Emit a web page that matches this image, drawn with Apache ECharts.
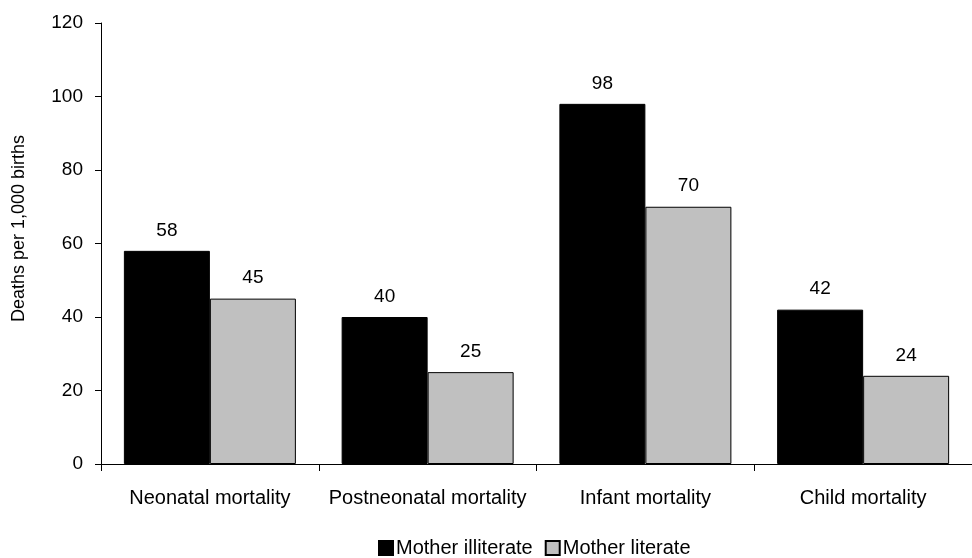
<!DOCTYPE html>
<html>
<head>
<meta charset="utf-8">
<script src="https://cdn.jsdelivr.net/npm/echarts@6/dist/echarts.min.js"></script>
<style>
  html, body { margin: 0; padding: 0; background: #fff; }
  #chart { width: 972px; height: 558px; }
</style>
</head>
<body>
<div id="chart"></div>
<script>
var categories = ['Neonatal mortality', 'Postneonatal mortality', 'Infant mortality', 'Child mortality'];
var illiterate = [58, 40, 98, 42];
var literate = [45, 25, 70, 24];
var seriesNames = ['Mother illiterate', 'Mother literate'];

var chart = echarts.init(document.getElementById('chart'));
var font = 'Liberation Sans, Arial, sans-serif';

var option = {
  animation: false,
  textStyle: { fontFamily: font },
  grid: { left: 101, top: 23, bottom: 94, width: 878 },
  legend: {
    data: seriesNames,
    bottom: -5,
    left: 373,
    itemWidth: 14,
    itemHeight: 14,
    itemGap: 12,
    icon: 'rect',
    textStyle: { fontSize: 20, color: '#000', fontFamily: font, padding: [0, 0, 0, -2] }
  },
  xAxis: {
    type: 'category',
    data: categories,
    axisLine: { lineStyle: { color: '#000', width: 1 } },
    axisTick: { show: true, length: 7, lineStyle: { color: '#000' } },
    axisLabel: { color: '#000', fontSize: 20, margin: 24, interval: 0, fontFamily: font }
  },
  yAxis: {
    type: 'value',
    min: 0,
    max: 120,
    interval: 20,
    name: 'Deaths per 1,000 births',
    nameLocation: 'middle',
    nameGap: 73,
    nameTextStyle: { fontSize: 18, color: '#000', fontFamily: font, padding: [0, 0, 0, 30] },
    axisLine: { show: true, lineStyle: { color: '#000', width: 1 } },
    axisTick: { show: true, length: 6, lineStyle: { color: '#000' } },
    axisLabel: { color: '#000', fontSize: 19, margin: 18, fontFamily: font },
    splitLine: { show: false }
  },
  series: [
    {
      name: seriesNames[0],
      type: 'bar',
      data: illiterate,
      barWidth: 86,
      barGap: '0%',
      itemStyle: { color: '#000', borderColor: '#000', borderWidth: 1 },
      label: { show: true, position: 'top', distance: 11, color: '#000', fontSize: 19, fontFamily: font }
    },
    {
      name: seriesNames[1],
      type: 'bar',
      data: literate,
      barWidth: 86,
      barGap: '0%',
      itemStyle: { color: '#c0c0c0', borderColor: '#000', borderWidth: 1 },
      label: { show: true, position: 'top', distance: 11, color: '#000', fontSize: 19, fontFamily: font }
    }
  ]
};

chart.setOption(option);
</script>
</body>
</html>
